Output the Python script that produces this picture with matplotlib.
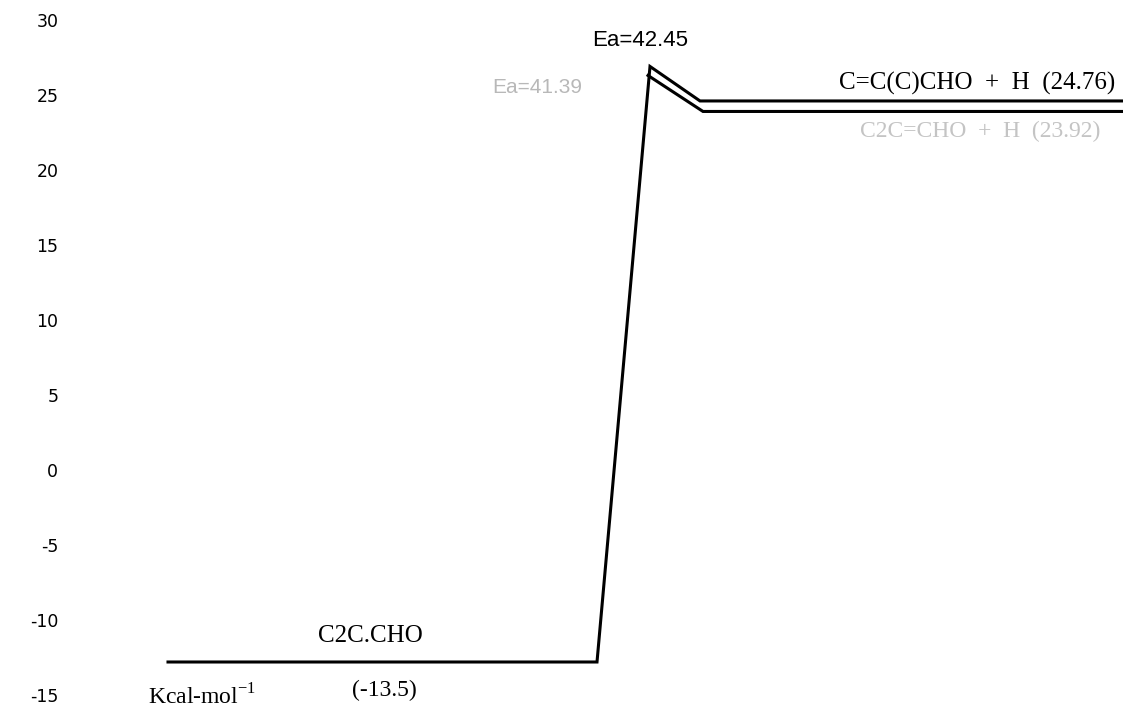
import matplotlib.pyplot as plt

plt.rcParams['mathtext.fontset'] = 'custom'
plt.rcParams['mathtext.rm'] = 'Liberation Serif'

# energies as drawn on the diagram (kcal/mol), reaction coordinate in arbitrary units
path_x = [1.68, 5.97, 6.50, 7.00, 11.23]
path_y = [-12.8, -12.8, 26.9, 24.6, 24.6]
path2_x = [6.48, 7.03, 11.23]
path2_y = [26.3, 23.9, 23.9]

yticks = [30, 25, 20, 15, 10, 5, 0, -5, -10, -15]

fig = plt.figure(figsize=(11.23, 7.13), dpi=100)
ax = fig.add_axes([75 / 1123, 0, 1 - 75 / 1123, 1])
ax.set_xlim(0.75, 11.23)
ax.set_ylim(-16.2, 31.33)

ax.plot(path_x, path_y, color='black', lw=2.2, solid_joinstyle='miter')
ax.plot(path2_x, path2_y, color='black', lw=2.2, solid_joinstyle='miter')

ax.set_yticks(yticks)
ax.set_yticklabels([str(t) for t in yticks], fontsize=12.5, family='DejaVu Sans')
ax.tick_params(axis='y', length=0, pad=12)
ax.set_xticks([])
for s in ax.spines.values():
    s.set_visible(False)

serif = 'Liberation Serif'
sans = 'Liberation Sans'
ax.text(3.70, -11.8, 'C2C.CHO', fontsize=18, family=serif, ha='center', va='bottom')
ax.text(3.84, -14.7, '(-13.5)', fontsize=17, family=serif, ha='center', va='center')
ax.text(1.48, -15.1, r'Kcal-mol$^{\mathrm{-1}}$', fontsize=17, family=serif, ha='left',
        va='center')

ax.text(6.40, 28.6, 'Ea=42.45', fontsize=16, family=sans, ha='center', va='center')
ax.text(5.37, 25.5, 'Ea=41.39', fontsize=15, family=sans, ha='center', va='center',
        color='#b8b8b8')
ax.text(11.15, 25.8, 'C=C(C)CHO  +  H  (24.76)', fontsize=18, family=serif, ha='right',
        va='center')
ax.text(11.0, 22.6, 'C2C=CHO  +  H  (23.92)', fontsize=17, family=serif, ha='right',
        va='center', color='#c4c4c4')

fig.savefig('out.png', dpi=100)
